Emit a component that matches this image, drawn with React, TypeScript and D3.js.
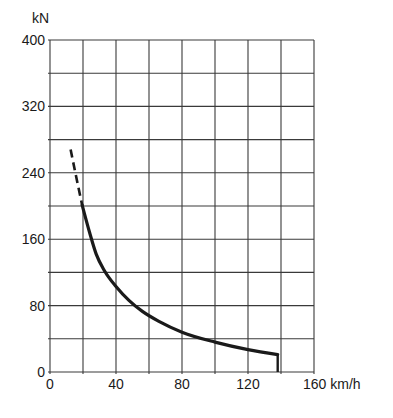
import * as d3 from 'd3';

// tractive effort curve (km/h, kN)
const dashedPart: [number, number][] = [[12.5, 268], [16, 234], [19.5, 201]];
const solidPart: [number, number][] = [
  [19.5, 201], [24, 168], [28, 142], [33, 122], [40, 103], [48, 86],
  [56, 73], [66, 61], [80, 48], [100, 36], [120, 27], [138, 21],
];
const dropSpeed = 138;

const xTicks = [0, 20, 40, 60, 80, 100, 120, 140, 160];
const yTicks = [0, 40, 80, 120, 160, 200, 240, 280, 320, 360, 400];
const xLabels = [0, 40, 80, 120, 160];
const yLabels = [0, 80, 160, 240, 320, 400];

const W = 393;
const H = 418;

export default function App() {
  const x = d3.scaleLinear().domain([0, 160]).range([50, 314]);
  const y = d3.scaleLinear().domain([0, 400]).range([372, 40]);

  const line = d3.line<[number, number]>()
    .x(d => x(d[0]))
    .y(d => y(d[1]))
    .curve(d3.curveMonotoneX);

  const font = '"Liberation Sans", Arial, sans-serif';
  const ink = '#1a1a1a';

  return (
    <svg width={W} height={H} style={{ position: 'absolute', left: 0, top: 0, background: '#fff' }}>
      {/* grid */}
      <g stroke="#3a3a3a" strokeWidth={1.1}>
        {yTicks.map(t => (
          <line key={'h' + t} x1={x(0) - 2} x2={x(160)} y1={y(t)} y2={y(t)} />
        ))}
        {xTicks.map(t => (
          <line key={'v' + t} x1={x(t)} x2={x(t)} y1={y(400)} y2={y(0) + 2} />
        ))}
      </g>

      {/* curve */}
      <path d={line(dashedPart) ?? ''} fill="none" stroke={ink} strokeWidth={2.6} strokeDasharray="8,5" />
      <path d={line(solidPart) ?? ''} fill="none" stroke={ink} strokeWidth={3.2} strokeLinecap="round" />
      <line x1={x(dropSpeed)} x2={x(dropSpeed)} y1={y(21)} y2={y(0)} stroke={ink} strokeWidth={2.4} />

      {/* labels */}
      <g fontFamily={font} fontSize={14} fill={ink}>
        {yLabels.map(t => (
          <text key={'yl' + t} x={45} y={y(t)} dy="0.36em" textAnchor="end">{t}</text>
        ))}
        {xLabels.map(t => (
          <text key={'xl' + t} x={x(t)} y={389} textAnchor={t === 160 ? 'start' : 'middle'} dx={t === 160 ? -11 : 0}>
            {t === 160 ? '160 km/h' : t}
          </text>
        ))}
        <text x={32} y={23}>kN</text>
      </g>
    </svg>
  );
}
